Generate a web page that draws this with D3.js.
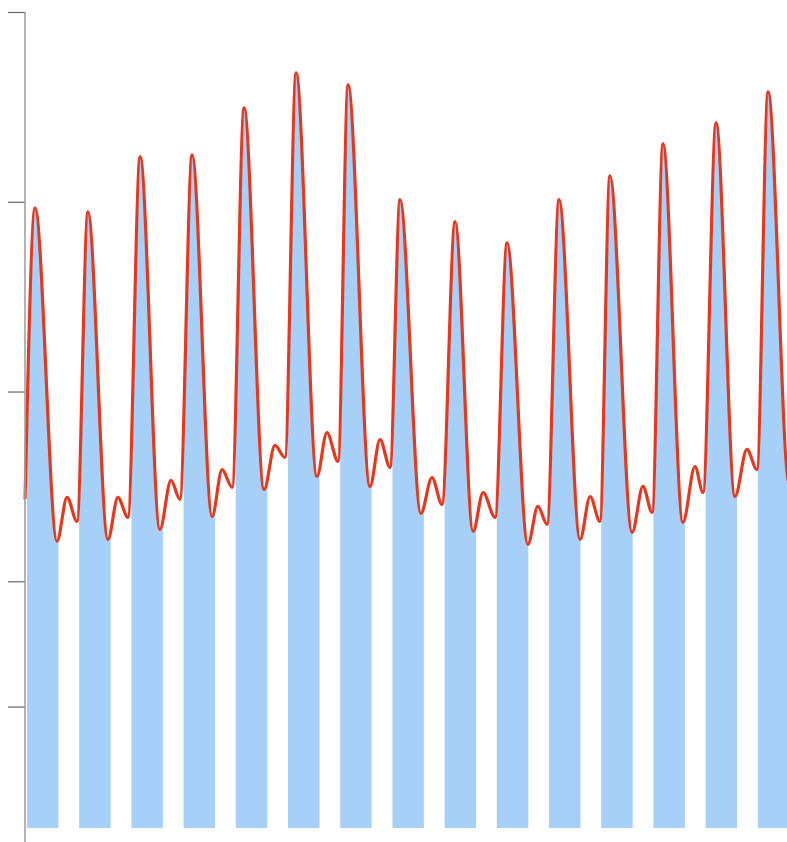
<!DOCTYPE html>
<html>
<head>
<meta charset="utf-8">
<script src="https://cdn.jsdelivr.net/npm/d3@7"></script>
<style>
  html, body { margin: 0; padding: 0; background: #ffffff; }
  svg { display: block; }
</style>
</head>
<body>
<svg id="chart" width="787" height="842"></svg>
<script>
// Daily columns
const days = ["D1","D2","D3","D4","D5","D6","D7","D8","D9","D10","D11","D12","D13","D14","D15"];
// Daily peak level (column height)
const dailyPeak = [39.68, 39.47, 42.37, 42.47, 44.95, 46.79, 46.16, 40.11, 38.95, 37.84, 40.11, 41.37, 43.05, 44.16, 45.79];

// Continuous trace: hour of record and level
const traceHours = [
  -0.9, 3.7, 13.8, 18.4, 23.0,
  28.0, 37.2, 41.8, 46.4,
  52.0, 61.1, 66.2, 70.3,
  75.9, 85.1, 89.7, 94.3,
  99.8, 109.0, 114.0, 118.6,
  123.7, 133.3, 137.9, 143.0,
  147.6, 157.7, 162.3, 166.9,
  171.5, 181.1, 186.2, 190.8,
  196.8, 205.1, 209.7, 215.2,
  220.7, 230.3, 234.9, 239.1,
  244.6, 254.3, 258.9, 263.4,
  268.0, 278.2, 283.2, 287.4,
  292.4, 301.6, 307.1, 310.8,
  316.8, 325.5, 331.0, 335.6,
  340.7, 350.4, 355.5
];
const traceValues = [
  24.32, 39.68, 22.11, 24.42, 23.16,
  39.47, 22.21, 24.42, 23.37,
  42.37, 22.74, 25.32, 24.32,
  42.47, 23.42, 25.89, 24.95,
  44.95, 24.84, 27.16, 26.53,
  46.79, 25.53, 27.84, 26.32,
  46.16, 25.00, 27.47, 26.00,
  40.11, 23.58, 25.47, 24.05,
  38.95, 22.63, 24.68, 23.37,
  37.84, 21.95, 23.95, 23.00,
  40.11, 22.21, 24.47, 23.16,
  41.37, 22.58, 25.00, 23.63,
  43.05, 23.11, 26.05, 24.68,
  44.16, 24.47, 26.95, 25.89,
  45.79, 25.20, 27.60
];

// Left axis tick positions
const yTicks = [13.4, 20, 30, 40, 50];

const svg = d3.select("#chart");
const W = 787, H = 842;
const yMin = 7, yMax = 50;

const y = d3.scaleLinear().domain([yMin, yMax]).range([828, 12]);
const xHour = d3.scaleLinear().domain([0, 360]).range([27, 27 + 2.175 * 360]);
const xBand = d3.scaleBand()
  .domain(days)
  .range([xHour(0), xHour(24 * 14) + 31.5])
  .paddingInner(0.397)
  .paddingOuter(0);

const trace = traceHours.map((h, i) => ({ h, v: traceValues[i] }));

// Columns show only the part lying under the trace
const under = d3.area()
  .x(d => xHour(d.h))
  .y0(y(yMin))
  .y1(d => y(d.v))
  .curve(d3.curveMonotoneX);

svg.append("defs").append("clipPath")
  .attr("id", "under-trace")
  .append("path")
  .attr("d", under(trace));

svg.append("g")
  .attr("clip-path", "url(#under-trace)")
  .selectAll("rect")
  .data(days)
  .join("rect")
  .attr("x", d => xBand(d))
  .attr("width", xBand.bandwidth())
  .attr("y", (d, i) => y(dailyPeak[i]))
  .attr("height", (d, i) => y(yMin) - y(dailyPeak[i]))
  .attr("fill", "#a6d0f8");

// Trace line
const line = d3.line()
  .x(d => xHour(d.h))
  .y(d => y(d.v))
  .curve(d3.curveMonotoneX);

svg.append("path")
  .datum(trace)
  .attr("d", line)
  .attr("fill", "none")
  .attr("stroke", "#e5391f")
  .attr("stroke-width", 3.2)
  .attr("stroke-linejoin", "round");

// Left axis
const axis = d3.axisLeft(y)
  .tickValues(yTicks)
  .tickSize(17)
  .tickSizeOuter(0)
  .tickFormat("");

const gAxis = svg.append("g")
  .attr("transform", "translate(25,0)")
  .call(axis);
gAxis.select(".domain").remove();
gAxis.selectAll(".tick line").attr("stroke", "#666").attr("stroke-width", 1.2);
gAxis.append("line")
  .attr("x1", 0).attr("x2", 0)
  .attr("y1", y(yMax)).attr("y2", H)
  .attr("stroke", "#a0a0a0")
  .attr("stroke-width", 1.6);
</script>
</body>
</html>
